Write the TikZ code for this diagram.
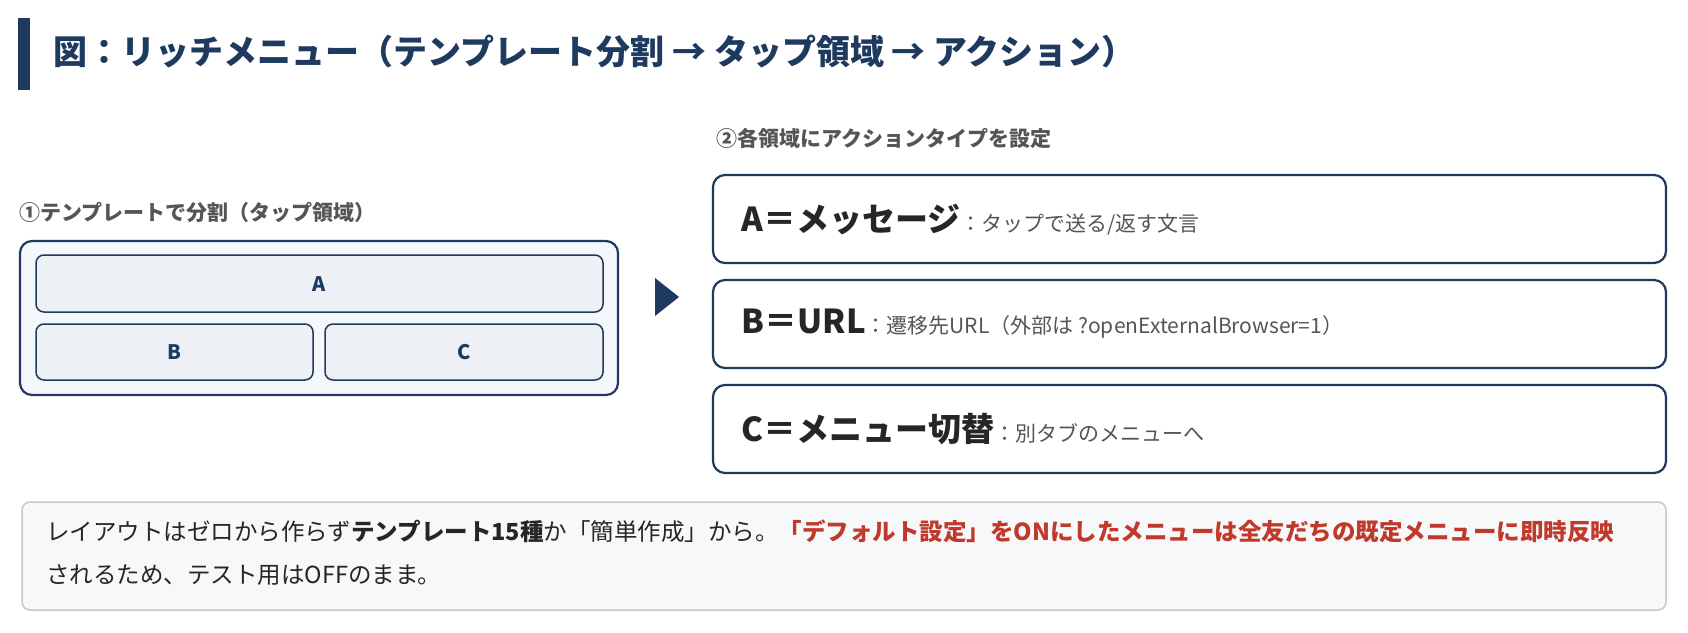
\documentclass[tikz,border=0pt]{standalone}
\usepackage{fontspec}
\setmainfont{Noto Sans CJK JP}
\definecolor{navy}{HTML}{1F3A5F}
\definecolor{cellbg}{HTML}{EDF0F5}
\definecolor{panelbg}{HTML}{F4F7FB}
\definecolor{graytxt}{HTML}{555555}
\definecolor{redtxt}{HTML}{C0392B}
\definecolor{notebg}{HTML}{F7F8FA}
\definecolor{notebd}{HTML}{C3C8D0}
\begin{document}
\begin{tikzpicture}[x=1pt,y=-1pt,
  cell/.style={draw=navy,line width=1.5pt,fill=cellbg,rounded corners=8pt},
  actbox/.style={draw=navy,line width=2.2pt,fill=white,rounded corners=12pt},
  celltxt/.style={font=\fontsize{20}{22}\selectfont\bfseries,text=navy}]
\useasboundingbox (0,0) rectangle (1688,632);
\fill[white] (0,0) rectangle (1688,632);
\fill[navy] (18,18) rectangle (30,90);
\node[anchor=west,text=navy,font=\fontsize{34}{38}\selectfont\bfseries] (title) at (50,52) {図：リッチメニュー（テンプレート分割 → タップ領域 → アクション）};
\node[anchor=west,text=graytxt,font=\fontsize{21}{24}\selectfont\bfseries] (h1) at (16,212) {①テンプレートで分割（タップ領域）};
\node[anchor=west,text=graytxt,font=\fontsize{21}{24}\selectfont\bfseries] (h2) at (713,138) {②各領域にアクションタイプを設定};
\draw[draw=navy,line width=2.2pt,fill=panelbg,rounded corners=12pt] (20,241) rectangle (618,395);
\draw[cell] (36,255) rectangle (603,312);
\node[celltxt] (a) at (319.5,284) {A};
\draw[cell] (36,324) rectangle (313,380);
\node[celltxt] (b) at (174.5,352) {B};
\draw[cell] (325,324) rectangle (603,380);
\node[celltxt] (c) at (464,352) {C};
\fill[navy] (655,278) -- (679,297) -- (655,316) -- cycle;
\draw[actbox] (713,175) rectangle (1666,263);
\node[anchor=west] (ra) at (738,220) {\fontsize{33}{36}\selectfont\bfseries\color{black!85}A＝メッセージ\fontsize{21}{24}\selectfont\mdseries\color{graytxt}：タップで送る/返す文言};
\draw[actbox] (713,280) rectangle (1666,368);
\node[anchor=west] (rb) at (738,324) {\fontsize{33}{36}\selectfont\bfseries\color{black!85}B＝URL\fontsize{21}{24}\selectfont\mdseries\color{graytxt}：遷移先URL（外部は ?openExternalBrowser=1）};
\draw[actbox] (713,385) rectangle (1666,473);
\node[anchor=west] (rc) at (738,429) {\fontsize{33}{36}\selectfont\bfseries\color{black!85}C＝メニュー切替\fontsize{21}{24}\selectfont\mdseries\color{graytxt}：別タブのメニューへ};
\draw[draw=notebd,line width=1.5pt,fill=notebg,rounded corners=8pt] (22,502) rectangle (1666,610);
\node[anchor=north west,align=left,font=\fontsize{23.5}{43}\selectfont,text=black!85,inner sep=0pt] (note) at (46,520) {レイアウトはゼロから作らず\textbf{テンプレート15種}か「簡単作成」から。\textcolor{redtxt}{\textbf{「デフォルト設定」をONにしたメニューは全友だちの既定メニューに即時反映}}\\されるため、テスト用はOFFのまま。};
\end{tikzpicture}
\end{document}
